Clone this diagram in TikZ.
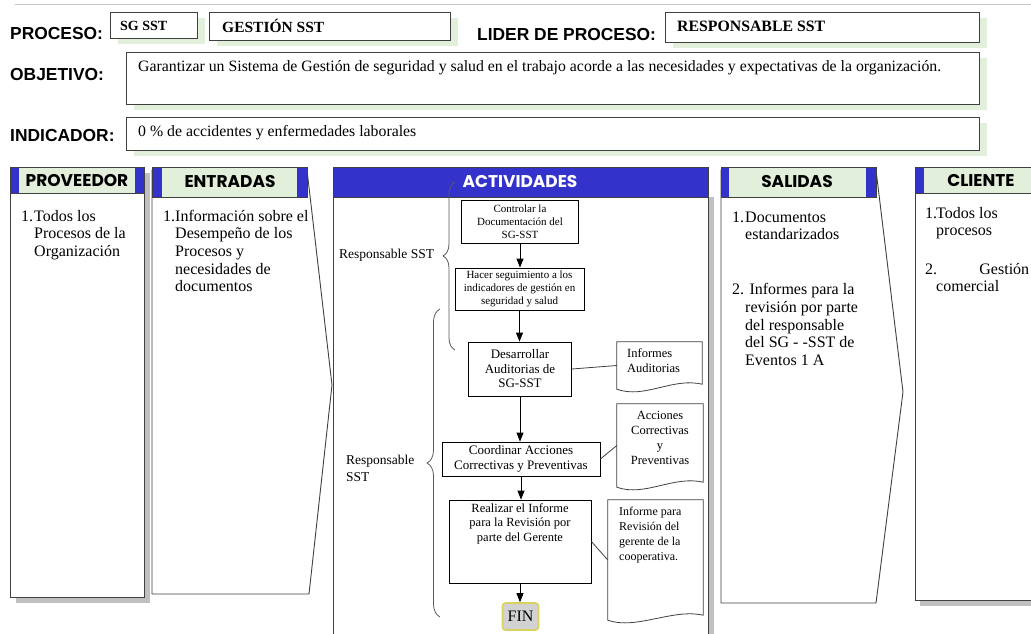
\documentclass[tikz,border=0pt]{standalone}
\usepackage{fontspec}
\setmainfont{Liberation Serif}
\newfontfamily\labelfont{Liberation Sans}
\newfontfamily\headfont{Poppins}
\usetikzlibrary{arrows.meta,calc,decorations.pathreplacing}

\definecolor{tabblue}{RGB}{51,51,204}
\definecolor{headgreen}{RGB}{226,239,218}
\definecolor{shadowgrey}{RGB}{192,192,192}
\definecolor{edge}{RGB}{64,64,64}
\definecolor{rulegrey}{RGB}{200,200,200}
\definecolor{finfill}{RGB}{210,210,210}
\definecolor{finedge}{RGB}{218,210,96}
\definecolor{bracegrey}{RGB}{90,90,90}

\newcommand\fsz[2]{\fontsize{#1pt}{#2pt}\selectfont}
% framed field with a light green drop shadow
\newcommand\fieldbox[4]{%
  \fill[headgreen] (#1+8,#2+6) rectangle (#3+8,#4+6);
  \draw[frame, fill=white] (#1,#2) rectangle (#3,#4);}
% document symbol with a wavy lower edge, drawn around a named node
\newcommand\docoutline[1]{%
  \draw[docline, fill=white] (#1.north west) -- (#1.north east)
    -- ([yshift=5pt]#1.south east)
    .. controls ([xshift=-30pt,yshift=12pt]#1.south east)
       and ([xshift=28pt,yshift=-10pt]#1.south west) .. (#1.south west) -- cycle;}

\begin{document}
\begin{tikzpicture}[x=1pt,y=-1pt,
  frame/.style={draw=edge, line width=0.9pt},
  docline/.style={draw=edge, line width=0.8pt},
  fieldlabel/.style={font=\labelfont\bfseries\fsz{17.4}{20}, anchor=base west, inner sep=0},
  fieldtext/.style={font=\bfseries\fsz{15.5}{18}, anchor=base west, inner sep=0},
  plaintext/.style={font=\fsz{15.8}{18}, anchor=base west, inner sep=0},
  headtext/.style={font=\headfont\bfseries\fsz{17}{19}, inner sep=0},
  % multi-line column texts are placed by the baseline of their last line
  coltext/.style={font=\fsz{16}{17.7}, anchor=base west, inner sep=0, align=left},
  stepbox/.style={draw=black, line width=0.8pt, fill=white, inner sep=0, align=center},
  doctext/.style={inner sep=0, draw=none},
  flowarrow/.style={draw=black, line width=0.8pt, -{Triangle[length=9pt,width=7pt]}},
  bracepen/.style={draw=bracegrey, line width=0.8pt, decorate},
]
\useasboundingbox (0,0) rectangle (1031,634);
\clip (0,0) rectangle (1031,634);

% ---------- heading block ----------
\draw[rulegrey, line width=1pt] (15,5) -- (1031,5);

\node[fieldlabel] (lproc) at (10,40) {PROCESO:};
\fieldbox{110}{12}{197}{38}
\node[fieldtext, font=\bfseries\fsz{14}{16}] (sgsst) at (120,31) {SG SST};
\fieldbox{209}{12}{450}{40}
\node[fieldtext] (gestion) at (222,33) {GESTIÓN SST};
\node[fieldlabel] (llider) at (477,41) {LIDER DE PROCESO:};
\fieldbox{665}{12}{979}{42}
\node[fieldtext, font=\bfseries\fsz{15.8}{18}] (resp) at (677,32) {RESPONSABLE SST};

\node[fieldlabel] (lobj) at (10,81) {OBJETIVO:};
\fieldbox{126}{52}{979}{104}
\node[plaintext] (obj) at (138,72) {Garantizar un Sistema de Gestión de seguridad y salud en el trabajo acorde a las necesidades y expectativas de la organización.};

\node[fieldlabel] (lind) at (10,141) {INDICADOR:};
\fieldbox{126}{117}{979}{150}
\node[plaintext] (ind) at (138,136) {0 \% de accidentes y enfermedades laborales};

% ---------- PROVEEDOR ----------
\fill[shadowgrey] (16,173) rectangle (150,603);
\draw[frame, fill=white] (10,193) rectangle (144,597);
\fill[headgreen] (10,167) rectangle (144,193);
\fill[tabblue] (10,167) rectangle (19,193);
\fill[tabblue] (135,167) rectangle (144,193);
\draw[frame] (10,167) rectangle (144,193);
\node[headtext] (hprov) at (77,181) {PROVEEDOR};
\node[coltext] (tprov) at (21,256.4) {\makebox[13pt][l]{1.}Todos los\\
  \hspace*{13pt}Procesos de la\\ \hspace*{13pt}Organización};

% ---------- ENTRADAS ----------
\draw[frame, fill=white] (152,170) -- (307,170) -- (332,385) -- (309,594) -- (152,594) -- cycle;
\fill[headgreen] (152,167) rectangle (307,197);
\fill[tabblue] (152,167) rectangle (162,197);
\fill[tabblue] (297,167) rectangle (307,197);
\draw[frame] (152,167) rectangle (307,197);
\node[headtext] (hent) at (230,182) {ENTRADAS};
\node[coltext] (tent) at (163,291.8) {\makebox[12pt][l]{1.}Información sobre el\\
  \hspace*{12pt}Desempeño de los\\ \hspace*{12pt}Procesos y\\
  \hspace*{12pt}necesidades de\\ \hspace*{12pt}documentos};

% ---------- ACTIVIDADES ----------
\fill[shadowgrey] (708,197) rectangle (714,640);
\draw[frame, fill=white] (333,197) rectangle (708,650);
\fill[tabblue] (333,167) rectangle (708,197);
\draw[frame] (333,167) rectangle (708,197);
\node[headtext, text=white] (hact) at (520,182) {ACTIVIDADES};

% flow of activities
\node[stepbox, minimum width=117, minimum height=43, font=\fsz{11}{13}] (b1) at (520,221.5)
  {Controlar la\\Documentación del\\SG-SST};
\node[stepbox, minimum width=129, minimum height=42, font=\fsz{11}{13}] (b2) at (519.5,289)
  {Hacer seguimiento a los\\indicadores de gestión en\\seguridad y salud};
\node[stepbox, minimum width=103, minimum height=54, font=\fsz{13}{14.5}] (b3) at (520,369)
  {Desarrollar\\Auditorias de\\SG-SST};
\node[stepbox, minimum width=158, minimum height=34, font=\fsz{13}{15.5}] (b4) at (521,459)
  {Coordinar Acciones\\Correctivas y Preventivas};
\node[stepbox, minimum width=142, minimum height=83] (b5) at (520,541.5) {};
\node[inner sep=0, align=center, font=\fsz{12.5}{14.5}, anchor=north] (b5text) at (520,503)
  {Realizar el Informe\\para la Revisión por\\parte del Gerente};
\node[draw=finedge, fill=finfill, line width=1.6pt, rounded corners=3pt, minimum width=36,
  minimum height=27, inner sep=0, font=\fsz{16}{18}] (fin) at (520.5,616.5) {FIN};

\draw[flowarrow] (b1.south) -- (b1.south |- b2.north);
\draw[flowarrow] (b2.south) -- (b2.south |- b3.north);
\draw[flowarrow] (b3.south) -- (b3.south |- b4.north);
\draw[flowarrow] (b4.south) -- (b4.south |- b5.north);
\draw[flowarrow] (b5.south) -- (b5.south |- fin.north);

% documents produced
\node[doctext, minimum width=85, minimum height=47] (d1) at (659.5,365.5) {};
\docoutline{d1}
\node[inner sep=0, align=left, font=\fsz{12.5}{15}, anchor=north west] (d1text) at (627,348)
  {Informes\\Auditorias};
\node[doctext, minimum width=86, minimum height=83] (d2) at (660,445.5) {};
\docoutline{d2}
\node[inner sep=0, align=center, font=\fsz{12.5}{15}, anchor=north] (d2text) at (660,411)
  {Acciones\\Correctivas\\y\\Preventivas};
\node[doctext, minimum width=95, minimum height=120] (d3) at (655.5,560) {};
\docoutline{d3}
\node[inner sep=0, align=left, font=\fsz{12}{15}, anchor=north west] (d3text) at (619,507)
  {Informe para\\Revisión del\\gerente de la\\cooperativa.};

\draw[docline] (b3.east) -- (d1.west);
\draw[docline] (b4.east) -- (d2.west);
\draw[docline] (b5.east) -- (d3.west);

% responsibilities
\draw[bracepen, decoration={brace, amplitude=12pt, aspect=0.56}] (455,350) -- (455,182);
\node[inner sep=0, anchor=base west, font=\fsz{13.5}{16}] (r1) at (339,258) {Responsable SST};
\draw[bracepen, decoration={brace, amplitude=13pt, aspect=0.5}] (440,617) -- (440,309);
\node[inner sep=0, anchor=north west, align=left, font=\fsz{13.5}{17}] (r2) at (346,455)
  {Responsable\\SST};

% ---------- SALIDAS ----------
\draw[frame, fill=white] (721,170) -- (876,170) -- (903,392) -- (876,603) -- (721,603) -- cycle;
\fill[headgreen] (721,167) rectangle (876,197);
\fill[tabblue] (721,167) rectangle (729,197);
\fill[tabblue] (866,167) rectangle (876,197);
\draw[frame] (721,167) rectangle (876,197);
\node[headtext] (hsal) at (797,182) {SALIDAS};
\node[coltext] (tsal1) at (732,239.7) {\makebox[13pt][l]{1.}Documentos\\
  \hspace*{13pt}estandarizados};
\node[coltext] (tsal2) at (732,365.4) {2. Informes para la\\
  \hspace*{13pt}revisión por parte\\ \hspace*{13pt}del responsable\\
  \hspace*{13pt}del SG - -SST de\\ \hspace*{13pt}Eventos 1 A};

% ---------- CLIENTE ----------
\fill[shadowgrey] (920,173) rectangle (1045,606);
\draw[frame, fill=white] (915,193) rectangle (1040,600);
\fill[headgreen] (915,167) rectangle (1040,193);
\fill[tabblue] (915,167) rectangle (924,193);
\draw[frame] (915,167) rectangle (1040,193);
\node[headtext] (hcli) at (981,181) {CLIENTE};
\node[coltext] (tcli1) at (925,235.7) {\makebox[11pt][l]{1.}Todos los\\
  \hspace*{11pt}procesos};
\node[coltext] (tcli2) at (925,291.7) {\makebox[104pt][l]{2.\hfill Gestión}\\
  \hspace*{11pt}comercial};
\end{tikzpicture}
\end{document}
